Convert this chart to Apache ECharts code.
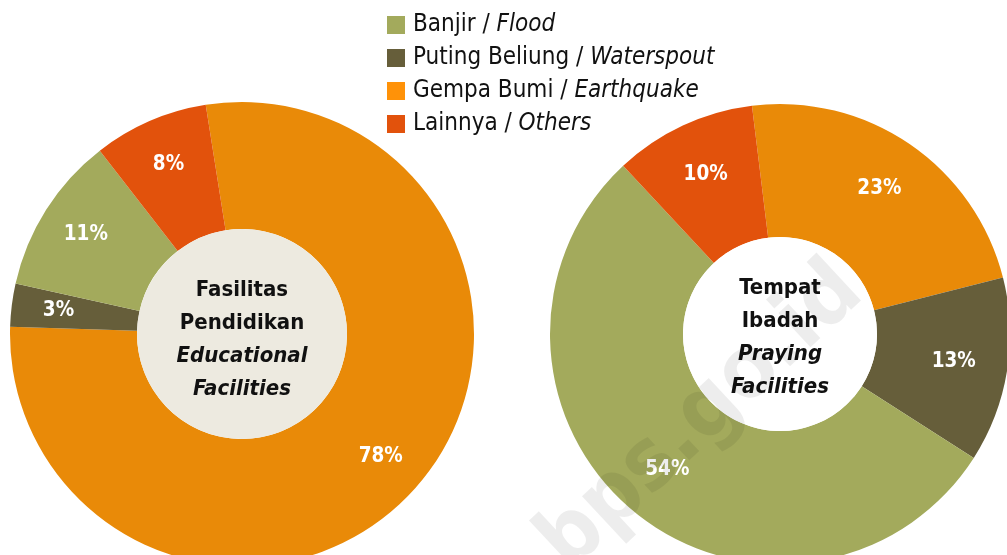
<!DOCTYPE html>
<html>
<head>
<meta charset="utf-8">
<script src="https://cdn.jsdelivr.net/npm/echarts@6/dist/echarts.min.js"></script>
<style>
  html, body { margin: 0; padding: 0; background: #fff; }
  #chart-donut { width: 1007px; height: 555px; }
</style>
</head>
<body>
<div id="chart-donut"></div>
<script>
// slice order as drawn clockwise from the top
const categories = ['Gempa Bumi', 'Puting Beliung', 'Banjir', 'Lainnya'];
const categoriesEn = ['Earthquake', 'Waterspout', 'Flood', 'Others'];
const eduValues = [78, 3, 11, 8];
const worshipValues = [23, 13, 54, 10];
const legendOrder = ['Banjir', 'Puting Beliung', 'Gempa Bumi', 'Lainnya'];

const FONT = '"DejaVu Sans Condensed", "DejaVu Sans", sans-serif';
const sliceColors = {
  'Banjir': '#a3aa5c',
  'Puting Beliung': '#665e3a',
  'Gempa Bumi': '#e98a08',
  'Lainnya': '#e2520c'
};
const legendColors = {
  'Banjir': '#a3aa5c',
  'Puting Beliung': '#665e3a',
  'Gempa Bumi': '#ff9208',
  'Lainnya': '#e2520c'
};

function sliceData(values) {
  return categories.map((name, i) => ({
    name: name,
    value: values[i],
    itemStyle: { color: sliceColors[name] }
  }));
}

function donut(center, radius, labelInner, startAngle, values, holeR, holeColor, title, titleShift) {
  return [
    {
      type: 'pie',
      center: center,
      radius: [holeR, radius],
      startAngle: startAngle,
      silent: true,
      label: { show: false },
      labelLine: { show: false },
      data: sliceData(values)
    },
    {
      // same slices, only carrying the percentage labels
      type: 'pie',
      center: center,
      radius: [labelInner, radius],
      startAngle: startAngle,
      silent: true,
      itemStyle: { color: 'transparent' },
      label: {
        show: true,
        position: 'inside',
        formatter: '{c}%',
        color: '#fff',
        fontFamily: FONT,
        fontWeight: 'bold',
        fontSize: 20.5
      },
      labelLine: { show: false },
      data: categories.map((name, i) => ({ name: name, value: values[i] }))
    },
    {
      type: 'pie',
      center: center,
      radius: [0, holeR],
      silent: true,
      itemStyle: { color: holeColor },
      label: {
        show: true,
        position: 'center',
        formatter: title,
        offset: [0, titleShift],
        color: '#111',
        rich: {
          b: { fontFamily: FONT, fontWeight: 'bold', fontSize: 22, lineHeight: 33, color: '#111' },
          i: { fontFamily: FONT, fontWeight: 'bold', fontStyle: 'italic', fontSize: 22, lineHeight: 33, color: '#111' }
        }
      },
      labelLine: { show: false },
      data: [{ name: 'hole', value: 1 }]
    }
  ];
}

const chart = echarts.init(document.getElementById('chart-donut'));

chart.setOption({
  animation: false,
  legend: {
    orient: 'vertical',
    left: 387,
    top: 13,
    padding: 0,
    itemWidth: 18,
    itemHeight: 18,
    itemGap: 9,
    icon: 'rect',
    selectedMode: false,
    data: legendOrder.map(name => ({ name: name, itemStyle: { color: legendColors[name] } })),
    formatter: name => name + ' / {i|' + categoriesEn[categories.indexOf(name)] + '}',
    textStyle: {
      fontFamily: FONT,
      fontSize: 24,
      lineHeight: 23,
      color: '#111',
      padding: [0, 0, 0, 3],
      rich: {
        i: { fontFamily: FONT, fontStyle: 'italic', fontSize: 24, lineHeight: 23, color: '#111' }
      }
    }
  },
  graphic: [{
    type: 'text',
    x: 702,
    y: 418,
    rotation: 43 * Math.PI / 180,
    z: 100,
    silent: true,
    style: {
      text: 'bps.go.id',
      fill: 'rgba(0,0,0,0.07)',
      font: 'bold 86px ' + FONT,
      align: 'center',
      verticalAlign: 'middle'
    }
  }],
  series: [].concat(
    donut([242, 334], 232, 132, 99, eduValues, 105, '#edeae0',
      '{b|Fasilitas}\n{b|Pendidikan}\n{i|Educational}\n{i|Facilities}', 6),
    donut([780, 334], 230, 116, 97, worshipValues, 97, '#ffffff',
      '{b|Tempat}\n{b|Ibadah}\n{i|Praying}\n{i|Facilities}', 4)
  )
});
</script>
</body>
</html>
